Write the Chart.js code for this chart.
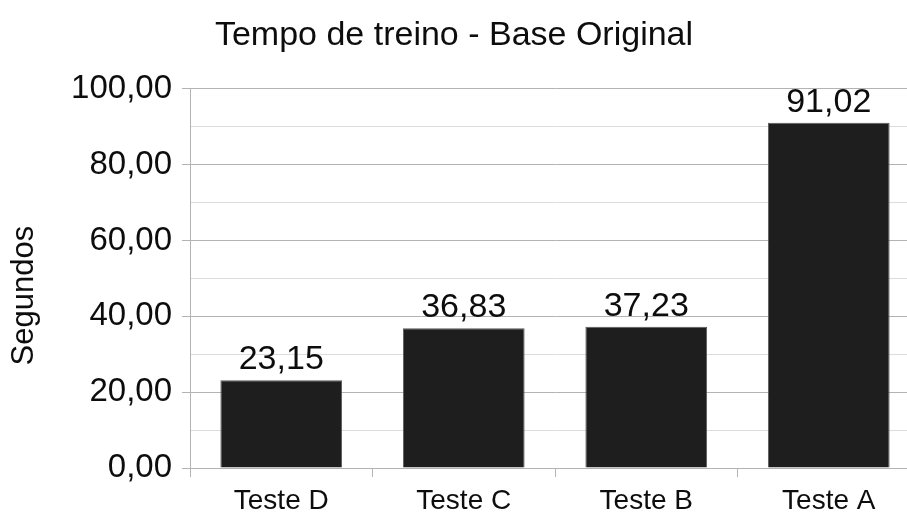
<!DOCTYPE html>
<html lang="pt">
<head>
  <meta charset="UTF-8">
  <title>Tempo de treino - Base Original</title>
  <script src="https://cdn.jsdelivr.net/npm/chart.js"></script>
  <style>
    html, body {
      margin: 0;
      padding: 0;
      background: #ffffff;
      overflow: hidden;
      width: 907px;
      height: 512px;
    }
    #wrap {
      position: absolute;
      left: -12px;
      top: 0;
      width: 932px;
      height: 512px;
    }
  </style>
</head>
<body>

<div id="wrap">
  <canvas id="tempoChart" width="932" height="512"></canvas>
</div>

<script>
const categories = ['Teste D', 'Teste C', 'Teste B', 'Teste A'];
const tempos = [23.15, 36.83, 37.23, 91.02];
const yTicks = [0, 20, 40, 60, 80, 100];

const FONT = "'Liberation Sans', Arial, sans-serif";
const fmt = v => v.toFixed(2).replace('.', ',');

// rótulos de valor acima das barras
const valueLabels = {
  id: 'valueLabels',
  afterDatasetsDraw(chart) {
    const c = chart.ctx;
    const meta = chart.getDatasetMeta(0);
    c.save();
    c.font = '34px ' + FONT;
    c.fillStyle = '#0d0d0d';
    c.textAlign = 'center';
    c.textBaseline = 'alphabetic';
    meta.data.forEach((bar, i) => {
      c.fillText(fmt(tempos[i]), bar.x, bar.y - 11);
    });
    c.restore();
  }
};

const ctx = document.getElementById('tempoChart').getContext('2d');

new Chart(ctx, {
  type: 'bar',
  data: {
    labels: categories,
    datasets: [{
      data: tempos,
      backgroundColor: '#1e1e1e',
      borderColor: '#5a5a5a',
      borderWidth: 1,
      barPercentage: 0.667,
      categoryPercentage: 1.0
    }]
  },
  options: {
    responsive: false,
    animation: false,
    layout: { padding: { left: 0, right: 0, top: 0, bottom: 0 } },
    plugins: {
      legend: { display: false },
      tooltip: { enabled: false },
      title: {
        display: true,
        text: 'Tempo de treino - Base Original',
        color: '#0d0d0d',
        font: { family: FONT, size: 34, weight: 'normal' },
        padding: { top: 15, bottom: 33 }
      }
    },
    scales: {
      y: {
        min: 0,
        max: 100,
        ticks: {
          stepSize: 10,
          autoSkip: false,
          padding: 10,
          color: '#0d0d0d',
          font: { family: FONT, size: 33 },
          callback: v => yTicks.includes(v) ? fmt(v) : ''
        },
        grid: {
          color: c => yTicks.includes(c.tick.value) ? '#b3b3b3' : '#dddddd',
          tickColor: c => yTicks.includes(c.tick.value) ? '#b3b3b3' : 'rgba(0,0,0,0)',
          tickLength: 8,
          lineWidth: 1
        },
        border: { display: true, color: '#b3b3b3' },
        title: {
          display: true,
          text: 'Segundos    ',
          color: '#0d0d0d',
          font: { family: FONT, size: 31 },
          padding: { top: 18, bottom: 0 }
        },
        afterFit: s => { s.width = 202; }
      },
      x: {
        ticks: {
          padding: 7,
          color: '#0d0d0d',
          font: { family: FONT, size: 28 }
        },
        grid: {
          display: true,
          drawOnChartArea: false,
          offset: true,
          tickLength: 9,
          color: '#b3b3b3'
        },
        border: { display: true, color: '#b3b3b3' },
        afterFit: s => { s.height = 44; }
      }
    }
  },
  plugins: [valueLabels]
});
</script>

</body>
</html>
